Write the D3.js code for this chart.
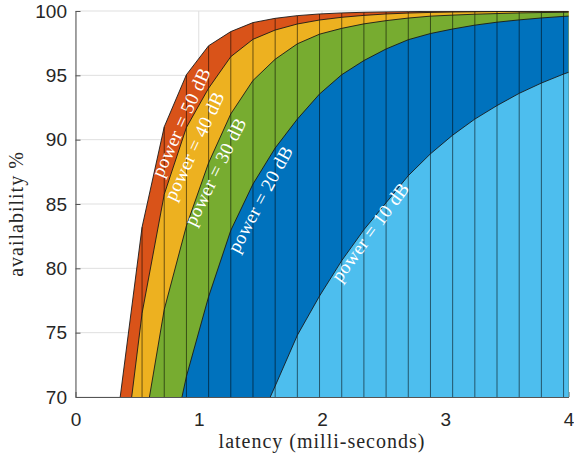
<!DOCTYPE html>
<html>
<head>
<meta charset="utf-8">
<script src="https://cdn.jsdelivr.net/npm/d3@7/dist/d3.min.js"></script>
<style>
  html, body { margin: 0; padding: 0; background: #fff; }
  svg { display: block; }
</style>
</head>
<body>
<svg id="chart" width="574" height="458"></svg>
<script>
// ---- data ----
const latency = [0.36,0.54,0.72,0.90,1.08,1.26,1.44,1.62,1.80,1.98,2.16,2.34,2.52,2.70,2.88,3.06,3.24,3.42,3.60,3.78,3.96,4.14];
const power50 = [69.8,83.2,91.0,95.05,97.3,98.4,99.1,99.43,99.64,99.77,99.85,99.9,99.93,99.95,99.97,99.98,99.985,99.99,99.99,99.995,99.995,100];
const power40 = [62.6,76.5,85.75,90.95,94.0,96.45,97.8,98.52,98.99,99.3,99.51,99.66,99.77,99.84,99.89,99.92,99.94,99.96,99.97,99.98,99.98,99.99];
const power30 = [54,66.6,76.8,83.3,88.2,92.0,94.6,96.25,97.45,98.2,98.65,99.0,99.25,99.45,99.6,99.68,99.75,99.8,99.85,99.88,99.9,99.92];
const power20 = [45,54.6,63.6,71.6,77.8,82.95,86.55,89.35,91.6,93.55,95.05,96.15,97.05,97.77,98.25,98.6,98.9,99.13,99.31,99.46,99.58,99.68];
const power10 = [33,41,48,54,59,63.5,67.0,70.85,74.8,77.85,80.6,83.0,85.1,87.2,88.9,90.35,91.6,92.65,93.6,94.4,95.1,95.7];
const seriesNames = ["power = 50 dB","power = 40 dB","power = 30 dB","power = 20 dB","power = 10 dB"];
const xTicks = [0,1,2,3,4];
const yTicks = [70,75,80,85,90,95,100];

const seriesValues = [power50, power40, power30, power20, power10];
const colors = ["#D95319","#EDB120","#77AC30","#0072BD","#4DBEEE"];
// label placement (center, angle)
const labelPos = [
  {cx:182.5, cy:123, a:-65.6},
  {cx:195.8, cy:146.7, a:-64.8},
  {cx:216.7, cy:172.5, a:-63.8},
  {cx:261.7, cy:200, a:-62},
  {cx:371.5, cy:233, a:-53.7}
];

const svg = d3.select("#chart");
const x = d3.scaleLinear().domain([0,4]).range([75.5,568.5]);
const y = d3.scaleLinear().domain([70,100]).range([397,11]);

svg.append("defs").append("clipPath").attr("id","clip")
  .append("rect").attr("x",x(0)).attr("y",y(100))
  .attr("width",x(4)-x(0)).attr("height",y(70)-y(100));

// grid
const grid = svg.append("g");
grid.selectAll("line.gx").data(xTicks).join("line")
  .attr("x1",d=>x(d)).attr("x2",d=>x(d)).attr("y1",y(70)).attr("y2",y(100))
  .attr("stroke","#dfdfdf").attr("stroke-width",1);
grid.selectAll("line.gy").data(yTicks).join("line")
  .attr("x1",x(0)).attr("x2",x(4)).attr("y1",d=>y(d)).attr("y2",d=>y(d))
  .attr("stroke","#dfdfdf").attr("stroke-width",1);

// axes
const xAxis = svg.append("g").attr("transform",`translate(0,${y(70)})`)
  .call(d3.axisBottom(x).tickValues(xTicks).tickFormat(d3.format("d")).tickSizeInner(-5).tickSizeOuter(0).tickPadding(16));
const yAxis = svg.append("g").attr("transform",`translate(${x(0)},0)`)
  .call(d3.axisLeft(y).tickValues(yTicks).tickFormat(d3.format("d")).tickSizeInner(-5).tickSizeOuter(0).tickPadding(8.5));
[xAxis,yAxis].forEach(g=>{
  g.select(".domain").attr("stroke","#555");
  g.selectAll(".tick line").attr("stroke","#555");
  g.selectAll(".tick text").attr("fill","#262626")
    .style("font-family","'Liberation Sans', Arial, sans-serif").style("font-size","19px");
});

// areas
const plot = svg.append("g").attr("clip-path","url(#clip)");
const rows = latency.map((lx,i)=>({x:lx, v:seriesValues.map(s=>s[i])}));
seriesValues.forEach((s,k)=>{
  const area = d3.area().x((d,i)=>x(latency[i])).y0(y(0)).y1(d=>y(d));
  plot.append("path").datum(s).attr("d",area).attr("fill",colors[k]).attr("stroke","none");
});
// vertical sample lines
plot.selectAll("line.v").data(rows).join("line")
  .attr("x1",d=>x(d.x)).attr("x2",d=>x(d.x))
  .attr("y1",y(70)).attr("y2",d=>y(d3.max(d.v)))
  .attr("stroke","#000").attr("stroke-opacity",0.55).attr("stroke-width",1);
// curve outlines
seriesValues.forEach((s,k)=>{
  const line = d3.line().x((d,i)=>x(latency[i])).y(d=>y(d));
  plot.append("path").datum(s).attr("d",line).attr("fill","none")
    .attr("stroke","#1a1a1a").attr("stroke-width",0.9);
});

// labels on areas
svg.append("g").selectAll("text").data(seriesNames).join("text")
  .attr("transform",(d,i)=>`translate(${labelPos[i].cx},${labelPos[i].cy}) rotate(${labelPos[i].a})`)
  .attr("text-anchor","middle").attr("dy","0.25em")
  .attr("fill","#fff")
  .style("font-family","'Liberation Serif', 'Times New Roman', serif")
  .style("font-size","19px").style("letter-spacing","0.3px")
  .text(d=>d);

// axis titles
svg.append("text").attr("x",322).attr("y",448).attr("text-anchor","middle")
  .attr("fill","#262626")
  .style("font-family","'Liberation Serif', 'Times New Roman', serif")
  .style("font-size","20px").style("letter-spacing","1px")
  .text("latency (milli-seconds)");
svg.append("text").attr("transform","translate(23,214) rotate(-90)").attr("text-anchor","middle")
  .attr("fill","#262626")
  .style("font-family","'Liberation Serif', 'Times New Roman', serif")
  .style("font-size","20px").style("letter-spacing","1px")
  .text("availability %");
</script>
</body>
</html>
